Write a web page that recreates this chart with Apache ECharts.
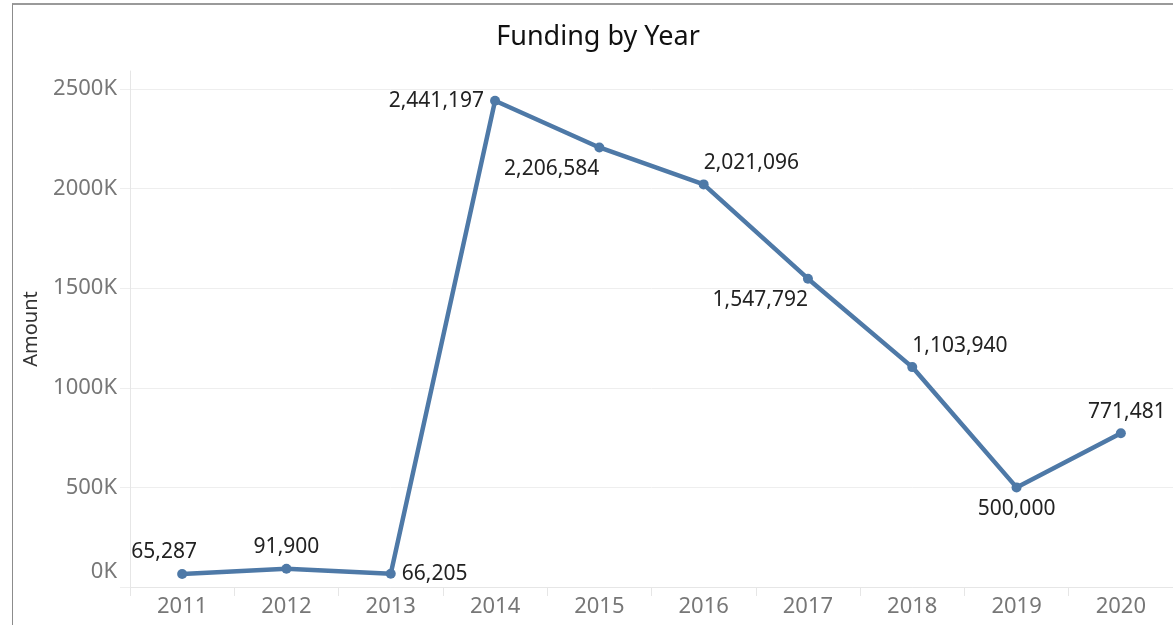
<!DOCTYPE html>
<html>
<head>
<meta charset="utf-8">
<script src="https://cdn.jsdelivr.net/npm/echarts@6/dist/echarts.min.js"></script>
<style>
  html, body { margin: 0; padding: 0; background: #fff; }
  #wrap { position: relative; width: 1173px; height: 625px; overflow: hidden; }
  #frame { position: absolute; left: 12px; top: 3px; right: 0; bottom: 0;
           border-top: 2px solid #9a9a9a; border-left: 1px solid #8c8c8c; }
  #chart { position: absolute; left: 0; top: 0; width: 1173px; height: 625px; }
</style>
</head>
<body>
<div id="wrap">
  <div id="frame"></div>
  <div id="chart"></div>
</div>
<script>
// ---- data ----
const years = ['2011','2012','2013','2014','2015','2016','2017','2018','2019','2020'];
const amounts = [65287, 91900, 66205, 2441197, 2206584, 2021096, 1547792, 1103940, 500000, 771481];
const yTicks = [0, 500000, 1000000, 1500000, 2000000, 2500000];

// ---- label placement (style only) ----
const placement = [
  {position: 'top', offset: [-18, 0]},
  {position: 'top'},
  {position: 'right'},
  {position: 'left'},
  {position: 'bottom', align: 'right'},
  {position: 'top', align: 'left'},
  {position: 'bottom', align: 'right'},
  {position: 'top', align: 'left'},
  {position: 'bottom'},
  {position: 'top', offset: [6, 0]}
];

const FONT = '"Noto Sans", "Open Sans", sans-serif';
const gridColor = '#eeeeee';

const seriesData = amounts.map((v, i) => ({
  value: v,
  label: Object.assign({}, placement[i])
}));

const chart = echarts.init(document.getElementById('chart'), null, {renderer: 'canvas'});
chart.setOption({
  animation: false,
  backgroundColor: 'transparent',
  title: {
    text: 'Funding by Year',
    left: 593, top: 19, textAlign: 'center',
    textStyle: {fontFamily: FONT, fontSize: 27, fontWeight: 'normal', color: '#111'}
  },
  grid: [
    {left: 130, right: 0, top: 89, bottom: 38},
    {left: 130, right: 0, top: 71, bottom: 38}
  ],
  xAxis: [
    {type: 'category', data: years, gridIndex: 0, show: false, boundaryGap: true},
    {type: 'category', data: years, gridIndex: 1, boundaryGap: true,
     axisLine: {show: true, lineStyle: {color: '#e6e6e6', width: 1}},
     axisTick: {show: true, length: 9, lineStyle: {color: '#e6e6e6'}},
     axisLabel: {margin: 9, fontFamily: FONT, fontSize: 22, color: '#777'},
     splitLine: {show: false}}
  ],
  yAxis: [
    {type: 'value', gridIndex: 0, min: 0, max: yTicks[yTicks.length - 1], interval: yTicks[1] - yTicks[0],
     axisLine: {show: false},
     axisTick: {show: true, length: 10, lineStyle: {color: gridColor}},
     axisLabel: {margin: 13, fontFamily: FONT, fontSize: 22, color: '#777',
                 formatter: v => v === 0 ? '{z|0K}' : (v / 1000) + 'K',
                 rich: {z: {fontFamily: FONT, fontSize: 22, color: '#777', padding: [0, 0, 30, 0]}}},
     splitLine: {show: true, lineStyle: {color: gridColor, width: 1}}},
    {type: 'value', gridIndex: 1, min: 0, max: 1,
     name: 'Amount', nameLocation: 'middle', nameGap: 89,
     nameTextStyle: {fontFamily: FONT, fontSize: 20, color: '#333'},
     axisLine: {show: true, lineStyle: {color: '#e6e6e6'}},
     axisTick: {show: false}, axisLabel: {show: false}, splitLine: {show: false}}
  ],
  series: [{
    type: 'line',
    xAxisIndex: 0, yAxisIndex: 0,
    data: seriesData,
    symbol: 'circle', symbolSize: 10,
    lineStyle: {color: '#4e79a7', width: 4.5},
    itemStyle: {color: '#4e79a7'},
    label: {show: true, distance: 6, fontFamily: FONT, fontSize: 21, color: '#222',
            formatter: p => p.value.toLocaleString('en-US')}
  }]
});
</script>
</body>
</html>
